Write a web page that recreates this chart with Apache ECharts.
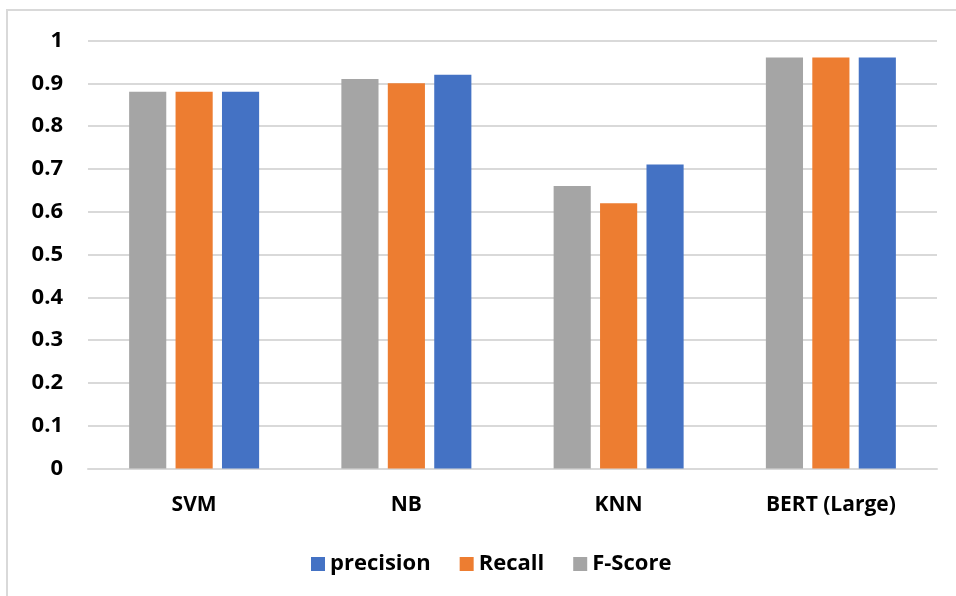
<!DOCTYPE html>
<html lang="en">
<head>
    <meta charset="UTF-8">
    <title>Scores</title>
    <script src="https://cdn.jsdelivr.net/npm/echarts@6/dist/echarts.min.js"></script>
    <style>
      body{ margin: 0; padding: 0; background: #fff; }
      #main{ width: 956px; height: 596px; }
    </style>
</head>
<body>
<div id="main"></div>
<script>
    let models = ['SVM', 'NB', 'KNN', 'BERT (Large)']
    let fscore = [0.88, 0.91, 0.66, 0.96]
    let recall = [0.88, 0.90, 0.62, 0.96]
    let precision = [0.88, 0.92, 0.71, 0.96]
    let legendNames = ['precision', 'Recall', 'F-Score']

    let font = '"Open Sans", sans-serif'
    let myChart = echarts.init(document.getElementById('main'))
    let option = {
        backgroundColor: '#fff',
        graphic: [{
            type: 'rect',
            shape: { x: 7, y: 10, width: 1000, height: 700 },
            style: { fill: 'none', stroke: '#d9d9d9', lineWidth: 2 }
        }],
        legend: {
            data: legendNames,
            bottom: 16,
            left: 306,
            icon: 'rect',
            itemWidth: 14,
            itemHeight: 14,
            itemGap: 29,
            textStyle: { fontFamily: font, fontWeight: 'bold', fontSize: 22, color: '#000' }
        },
        grid: { left: 88, right: 19, top: 40.5, bottom: 127.5 },
        xAxis: {
            type: 'category',
            data: models,
            axisTick: { show: false },
            axisLine: { lineStyle: { color: '#d9d9d9', width: 2 } },
            axisLabel: { fontFamily: font, fontWeight: 'bold', fontSize: 21, color: '#000', margin: 26 }
        },
        yAxis: {
            type: 'value',
            min: 0,
            max: 1,
            interval: 0.1,
            axisLine: { show: false },
            axisTick: { show: false },
            splitLine: { lineStyle: { color: '#d9d9d9', width: 2 } },
            axisLabel: {
                fontFamily: font, fontWeight: 'bold', fontSize: 22, color: '#000', margin: 25,
                formatter: function (v) { return String(parseFloat(v.toFixed(1))) }
            }
        },
        series: [
            { name: 'F-Score', type: 'bar', data: fscore, barWidth: '17.5%', barGap: '25%', itemStyle: { color: '#a5a5a5' } },
            { name: 'Recall', type: 'bar', data: recall, barWidth: '17.5%', barGap: '25%', itemStyle: { color: '#ed7d31' } },
            { name: 'precision', type: 'bar', data: precision, barWidth: '17.5%', barGap: '25%', itemStyle: { color: '#4472c4' } }
        ]
    }
    myChart.setOption(option)
</script>
</body>
</html>
